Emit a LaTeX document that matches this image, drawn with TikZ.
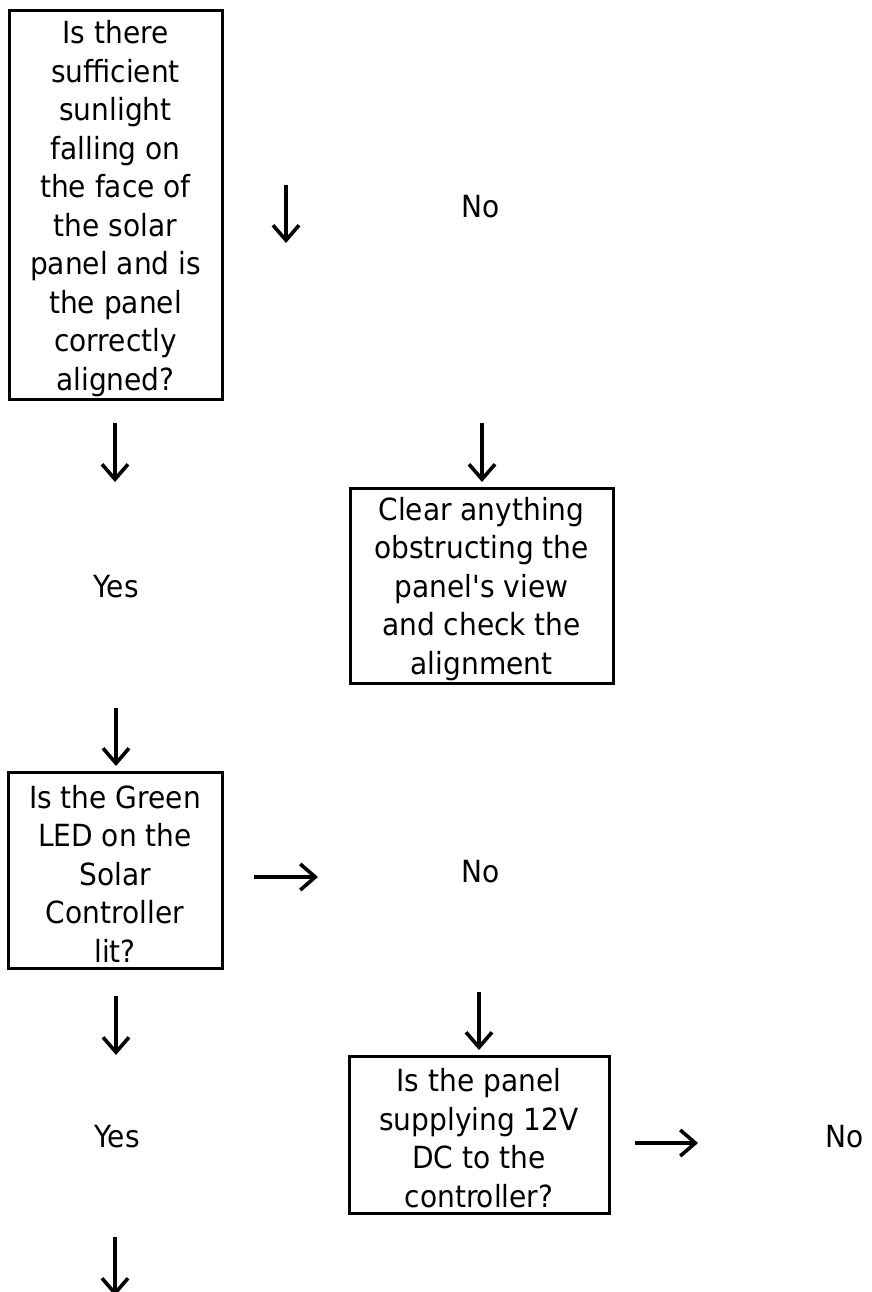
\documentclass[tikz,border=0pt]{standalone}
\usepackage{fontspec}
\setmainfont{DejaVu Sans}[FakeStretch=0.92, Ligatures=TeXOff]
\usetikzlibrary{arrows.meta}
\newcommand\txtfont{\fontsize{30.5}{38.5}\selectfont}
\begin{document}
\begin{tikzpicture}[x=1pt,y=-1pt,
  box/.style={draw, line width=3pt, inner sep=0pt},
  txt/.style={inner sep=0pt, align=center, font=\txtfont, yshift=-3.5pt},
  lbl/.style={anchor=base, inner sep=0pt, font=\txtfont},
  darr/.style={line width=3.2pt, -{Straight Barb[length=15pt,width=26pt,line width=3.6pt]}},
]
\useasboundingbox (0,0) rectangle (871,1292);
\clip (0,0) rectangle (871,1292);

% boxes
\node[box, minimum width=213pt, minimum height=388pt] (q1) at (115.5,205) {};
\node[txt] (q1t) at (q1.center)
  {Is there\\sufficient\\sunlight\\falling on\\the face of\\the solar\\panel and is\\the panel\\correctly\\aligned?};
\node[box, minimum width=263pt, minimum height=195pt] (clr) at (481.5,585.5) {};
\node[txt] (clrt) at (clr.center)
  {Clear anything\\obstructing the\\panel's view\\and check the\\alignment};
\node[box, minimum width=214pt, minimum height=196pt] (q2) at (115,870) {};
\node[txt] (q2t) at (q2.center)
  {Is the Green\\LED on the\\Solar\\Controller\\lit?};
\node[box, minimum width=260pt, minimum height=157pt] (q3) at (479,1134.5) {};
\node[txt] (q3t) at (q3.center)
  {Is the panel\\supplying 12V\\DC to the\\controller?};

% labels
\node[lbl] (no1) at (481,218) {No};
\node[lbl] (yes1) at (116,597) {Yes};
\node[lbl] (no2) at (481,882) {No};
\node[lbl] (yes2) at (117,1147) {Yes};
\node[lbl] (no3) at (845,1147) {No};

% arrow end points
\coordinate (a1s) at (286,185);  \coordinate (a1e) at (286,243);
\coordinate (a2s) at (115,423);  \coordinate (a2e) at (115,482);
\coordinate (a3s) at (482,423);  \coordinate (a3e) at (482,482);
\coordinate (a4s) at (116,708);  \coordinate (a4e) at (116,766);
\coordinate (a5s) at (254,877);  \coordinate (a5e) at (318,877);
\coordinate (a6s) at (116,996);  \coordinate (a6e) at (116,1055);
\coordinate (a7s) at (479,992);  \coordinate (a7e) at (479,1050);
\coordinate (a8s) at (635,1143); \coordinate (a8e) at (698,1143);
\coordinate (a9s) at (115,1237); \coordinate (a9e) at (115,1296);

\foreach \a in {1,...,9} {\draw[darr] (a\a s) -- (a\a e);}
\end{tikzpicture}
\end{document}
